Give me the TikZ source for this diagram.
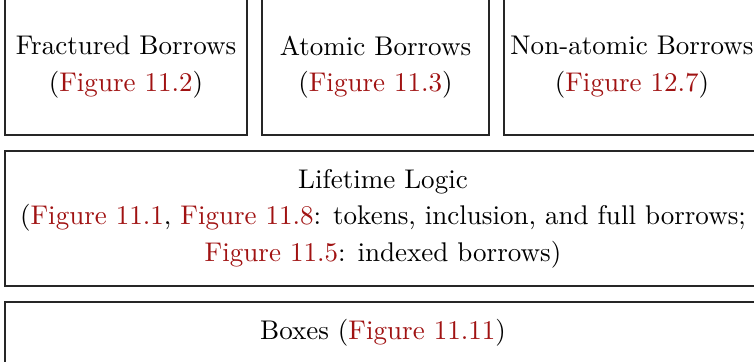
\documentclass[tikz,border=0pt]{standalone}
\definecolor{linkred}{RGB}{160,18,18}
\newcommand\myfig[1]{\textcolor{linkred}{Figure~#1}}
\begin{document}
\begin{tikzpicture}[x=0.3731pt,y=-0.3731pt,
  box/.style={draw=black!85, line width=0.4pt, inner sep=0pt, align=center,
    font=\fontsize{10.08}{13.6}\selectfont}]
\useasboundingbox (0,0) rectangle (754,362);
\node[box, minimum width=90.29pt, minimum height=50.74pt] (frac) at (126,67)
  {Fractured Borrows\\(\myfig{11.2})};
\node[box, minimum width=84.69pt, minimum height=50.74pt] (atom) at (375.5,67)
  {Atomic Borrows\\(\myfig{11.3})};
\node[box, minimum width=95.51pt, minimum height=50.74pt] (nonatom) at (632,67)
  {Non-atomic Borrows\\(\myfig{12.7})};
\node[box, minimum width=282.06pt, minimum height=50.37pt] (life) at (383,218.5)
  {Lifetime Logic\\(\myfig{11.1}, \myfig{11.8}: tokens, inclusion, and full borrows;\\\myfig{11.5}: indexed borrows)};
\node[box, minimum width=282.06pt, minimum height=23.13pt] (boxes) at (383,333)
  {Boxes (\myfig{11.11})};
\end{tikzpicture}
\end{document}
